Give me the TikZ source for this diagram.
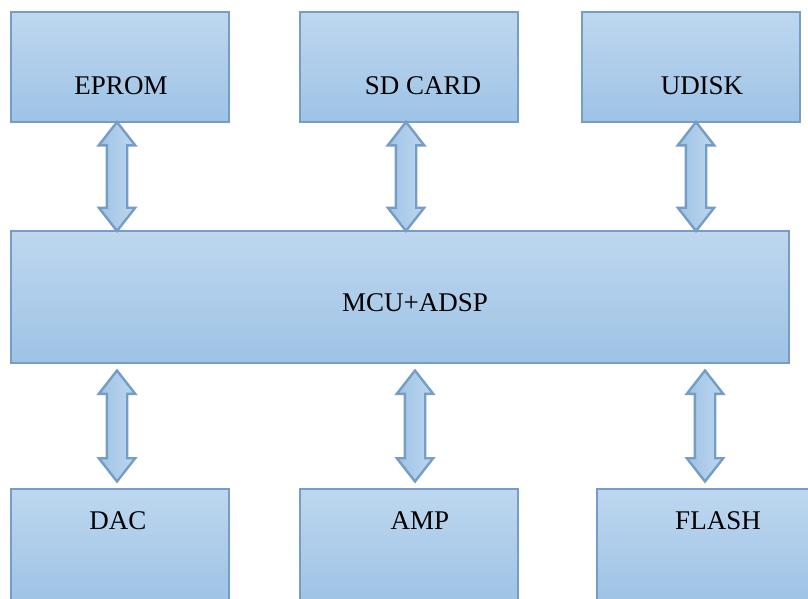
\documentclass[tikz,border=0pt]{standalone}
\usepackage{fontspec}
\setmainfont{Liberation Serif}
\usetikzlibrary{shapes.arrows,calc}
\definecolor{boxtop}{RGB}{190,215,239}
\definecolor{boxbot}{RGB}{158,195,229}
\definecolor{boxline}{RGB}{118,157,197}
\tikzset{
  blk/.style={draw=boxline, line width=2.6pt, top color=boxtop, bottom color=boxbot,
    minimum width=218pt, minimum height=110pt, inner sep=0pt},
  lbl/.style={font=\fontsize{27}{32}\selectfont, inner sep=0pt},
  dbl/.style={shape=double arrow, draw=boxline, line width=2.4pt, left color=boxbot, right color=boxtop,
    rotate=90, double arrow head extend=8pt, double arrow tip angle=76,
    inner sep=9pt}
}
\begin{document}
\begin{tikzpicture}[x=1pt,y=-1pt]
  \clip (0,0) rectangle (808,598);
  \node[blk] (EP) at (120,67) {};
  \node[blk] (SD) at (409,67) {};
  \node[blk] (UD) at (691,67) {};
  \node[blk, minimum width=778pt, minimum height=132pt] (MC) at (400,297) {};
  \node[blk, minimum height=112pt] (DA) at (120,545) {};
  \node[blk, minimum height=112pt] (AM) at (409,545) {};
  \node[blk, minimum height=112pt] (FL) at (706,545) {};

  \node[lbl] (tEP) at (121,86) {EPROM};
  \node[lbl] (tSD) at (423,86) {SD CARD};
  \node[lbl] (tUD) at (702,86) {UDISK};
  \node[lbl] (tMC) at (415,303) {MCU+ADSP};
  \node[lbl] (tDA) at (118,521) {DAC};
  \node[lbl] (tAM) at (420,521) {AMP};
  \node[lbl] (tFL) at (718,521) {FLASH};

  % bus arrows
  \node[dbl, minimum height=109pt] (aEP) at ($(EP.south)!.5!(EP.south|-MC.north)+(-3,0)$) {};
  \node[dbl, minimum height=109pt] (aSD) at ($(SD.south)!.5!(SD.south|-MC.north)+(-3,0)$) {};
  \node[dbl, minimum height=109pt] (aUD) at ($(UD.south)!.5!(UD.south|-MC.north)+(5,0)$) {};
  \node[dbl, minimum height=111pt] (aDA) at ($(DA.north|-MC.south)!.5!(DA.north)+(-3,0)$) {};
  \node[dbl, minimum height=111pt] (aAM) at ($(AM.north|-MC.south)!.5!(AM.north)+(6,0)$) {};
  \node[dbl, minimum height=111pt] (aFL) at ($(FL.north|-MC.south)!.5!(FL.north)+(-1,0)$) {};
\end{tikzpicture}
\end{document}
